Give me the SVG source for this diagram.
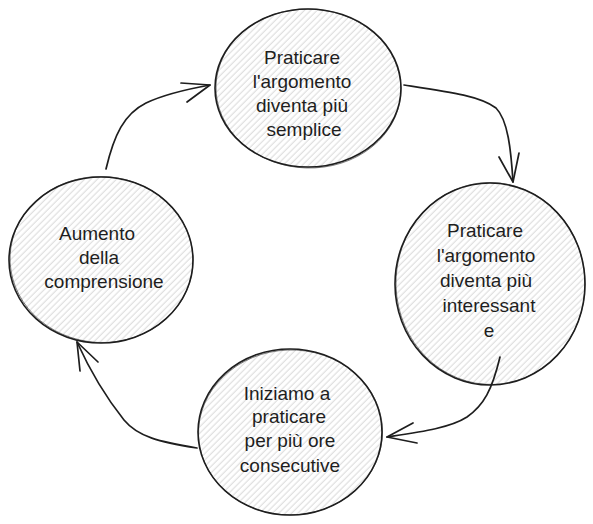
<svg xmlns="http://www.w3.org/2000/svg" width="593" height="524" viewBox="0 0 593 524">
  <defs>
    <pattern id="hatch" patternUnits="userSpaceOnUse" width="4.5" height="4.5" patternTransform="rotate(45)">
      <line x1="2" y1="0" x2="2" y2="4.5" stroke="#cfcfcf" stroke-width="0.8"/>
    </pattern>
  </defs>
  <style>
    .node-fill { fill: url(#hatch); stroke: none; }
    .node-stroke { fill: none; stroke: #1e1e1e; stroke-width: 1.6; }
    .node-stroke2 { fill: none; stroke: #1e1e1e; stroke-width: 0.8; opacity: 0.7; }
    .label { font-family: "Liberation Sans", "Open Sans", sans-serif; font-size: 19px; fill: #1e1e1e; text-anchor: middle; }
    .edge { fill: none; stroke: #1e1e1e; stroke-width: 1.7; stroke-linecap: round; stroke-linejoin: round; }
  </style>
  <rect width="593" height="524" fill="#ffffff"/>

  <g id="node-top">
    <ellipse class="node-fill" cx="308" cy="88" rx="93" ry="79"/>
    <ellipse class="node-stroke" cx="308" cy="88" rx="93" ry="79"/>
    <ellipse class="node-stroke2" cx="308.5" cy="88.5" rx="92.5" ry="79.5" transform="rotate(2 308 88)"/>
    <text class="label" x="302" y="64">Praticare</text>
    <text class="label" x="302" y="88">l'argomento</text>
    <text class="label" x="302" y="112">diventa più</text>
    <text class="label" x="304" y="136">semplice</text>
  </g>

  <g id="node-right">
    <ellipse class="node-fill" cx="490" cy="284" rx="95" ry="101"/>
    <ellipse class="node-stroke" cx="490" cy="284" rx="95" ry="101"/>
    <ellipse class="node-stroke2" cx="490.5" cy="283.5" rx="94.5" ry="101" transform="rotate(-2 490 284)"/>
    <text class="label" x="485" y="237">Praticare</text>
    <text class="label" x="486" y="262">l'argomento</text>
    <text class="label" x="486" y="287">diventa più</text>
    <text class="label" x="489" y="312">interessant</text>
    <text class="label" x="489" y="337">e</text>
  </g>

  <g id="node-left">
    <ellipse class="node-fill" cx="101" cy="260" rx="92" ry="83"/>
    <ellipse class="node-stroke" cx="101" cy="260" rx="92" ry="83"/>
    <ellipse class="node-stroke2" cx="101.5" cy="259.5" rx="91.5" ry="83" transform="rotate(3 101 260)"/>
    <text class="label" x="97" y="240">Aumento</text>
    <text class="label" x="99" y="264">della</text>
    <text class="label" x="104" y="288">comprensione</text>
  </g>

  <g id="node-bottom">
    <ellipse class="node-fill" cx="290" cy="432" rx="92" ry="83"/>
    <ellipse class="node-stroke" cx="290" cy="432" rx="92" ry="83"/>
    <ellipse class="node-stroke2" cx="290.5" cy="432.5" rx="92" ry="82.5" transform="rotate(-2 290 432)"/>
    <text class="label" x="287" y="400">Iniziamo a</text>
    <text class="label" x="289" y="423">praticare</text>
    <text class="label" x="290" y="447">per più ore</text>
    <text class="label" x="290" y="472">consecutive</text>
  </g>

  <g id="connectors">
    <path class="edge" d="M106,169 C114,135 124,114 146,103 C165,94 188,89 210,85"/>
    <path class="edge" d="M181,83 L210,85 L187,102"/>

    <path class="edge" d="M404,85 C450,92 480,96 496,108 C508,120 511,150 513,182"/>
    <path class="edge" d="M499,157 L513,182 L519,153"/>

    <path class="edge" d="M500,357 C492,390 484,405 467,417 C450,428 420,432 387,437"/>
    <path class="edge" d="M413,423 L387,437 L417,443"/>

    <path class="edge" d="M197,448 C160,442 138,437 124,420 C108,400 92,375 77,342"/>
    <path class="edge" d="M80,371 L77,342 L98,362"/>
  </g>
</svg>
